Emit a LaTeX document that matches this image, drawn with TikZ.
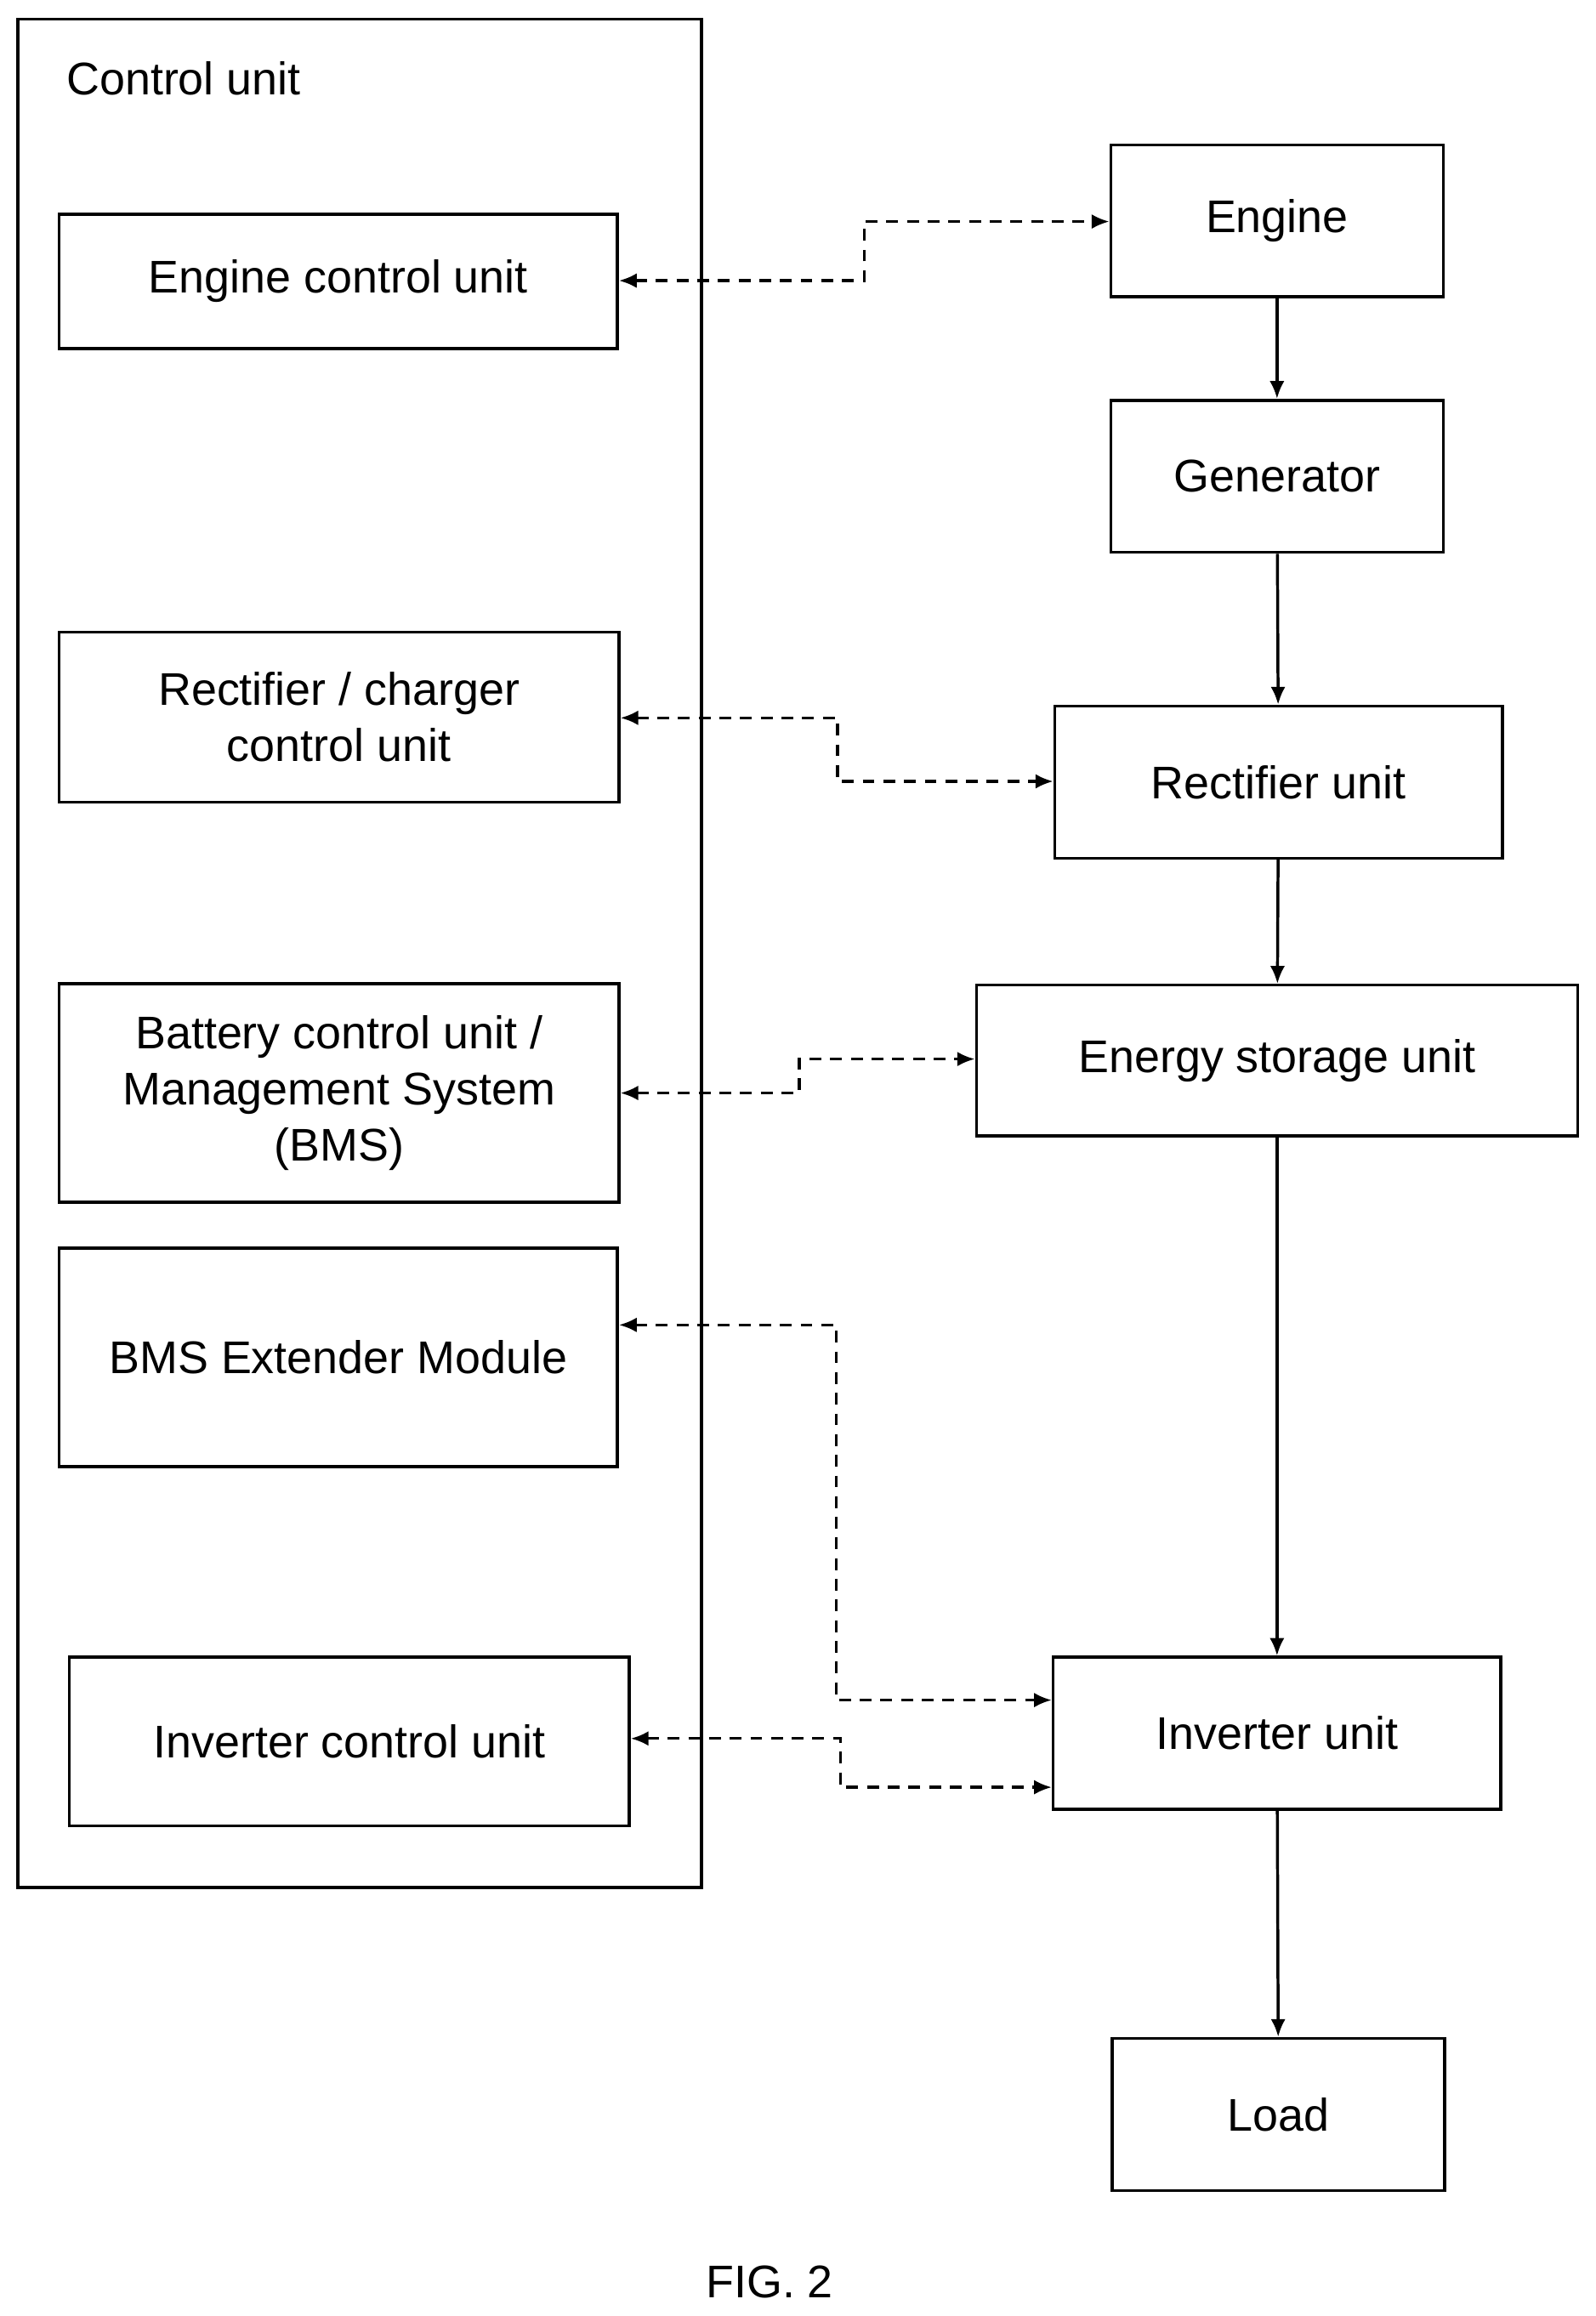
\documentclass[tikz,border=0pt]{standalone}
\usepackage{fontspec}
\setmainfont{Liberation Sans}
\usetikzlibrary{arrows.meta}
\begin{document}
\begin{tikzpicture}[x=0.5pt,y=-0.5pt,
  box/.style={draw,line width=1pt,inner sep=0pt,align=center,font=\fontsize{15.5}{19}\selectfont},
  ctrl/.style={line width=1pt,dash pattern=on 4pt off 3pt,{Latex[length=6pt,width=5pt]}-{Latex[length=6pt,width=5pt]}},
  flow/.style={line width=1pt,-{Latex[length=6pt,width=5pt]}}]
\useasboundingbox (0,0) rectangle (1080,1568);
\newcommand{\bx}[6]{\node[box,minimum width=#4*0.5pt-#2*0.5pt,minimum height=#5*0.5pt-#3*0.5pt] (#1) at ({(#2+#4)/2},{(#3+#5)/2}) {#6};}
\node[draw,line width=1pt,minimum width=231.5pt,minimum height=632.5pt,inner sep=0pt] (cu) at (243.5,645.5) {};
\node[anchor=west,font=\fontsize{15.5}{19}\selectfont] (cul) at (38,53) {Control unit};
\bx{ecu}{40}{145}{418}{236}{Engine control unit}
\bx{rcu}{40}{428}{419}{543}{Rectifier / charger\\control unit}
\bx{bcu}{40}{666}{419}{814}{Battery control unit /\\Management System\\(BMS)}
\bx{bms}{40}{845}{418}{993}{BMS Extender Module}
\bx{icu}{47}{1122}{426}{1236}{Inverter control unit}
\bx{eng}{752}{98}{977}{201}{Engine}
\bx{gen}{752}{271}{977}{374}{Generator}
\bx{rec}{714}{478}{1017}{581}{Rectifier unit}
\bx{es}{661}{667}{1068}{769}{Energy storage unit}
\bx{inv}{713}{1122}{1016}{1225}{Inverter unit}
\bx{load}{753}{1380}{978}{1483}{Load}
\node[font=\fontsize{15.5}{19}\selectfont] (fig) at (521,1545) {FIG. 2};
\draw[flow] (eng) -- (gen);
\draw[flow] (gen) -- (rec);
\draw[flow] (rec) -- (es);
\draw[flow] (es) -- (inv);
\draw[flow] (inv) -- (load);
\draw[ctrl] (ecu.east |- 0,190) -- (585,190) -- (585,150) -- (eng.west |- 0,150);
\draw[ctrl] (rcu.east |- 0,486) -- (567,486) -- (567,529) -- (rec.west |- 0,529);
\draw[ctrl] (bcu.east |- 0,740) -- (541,740) -- (541,717) -- (es.west |- 0,717);
\draw[ctrl] (bms.east |- 0,897) -- (566,897) -- (566,1151) -- (inv.west |- 0,1151);
\draw[ctrl] (icu.east |- 0,1177) -- (569,1177) -- (569,1210) -- (inv.west |- 0,1210);
\end{tikzpicture}
\end{document}
